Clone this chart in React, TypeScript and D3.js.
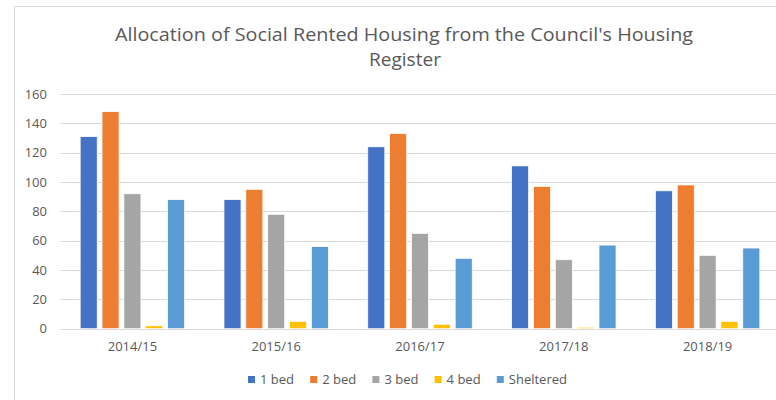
import React from 'react'
import * as d3 from 'd3'

const years = ['2014/15', '2015/16', '2016/17', '2017/18', '2018/19']
const seriesNames = ['1 bed', '2 bed', '3 bed', '4 bed', 'Sheltered']
const oneBed = [131, 88, 124, 111, 94]
const twoBed = [148, 95, 133, 97, 98]
const threeBed = [92, 78, 65, 47, 50]
const fourBed = [2, 5, 3, 1, 5]
const sheltered = [88, 56, 48, 57, 55]
const yTicks = [0, 20, 40, 60, 80, 100, 120, 140, 160]
const colors = ['#4472C4', '#ED7D31', '#A5A5A5', '#FFC000', '#5B9BD5']

const values = [oneBed, twoBed, threeBed, fourBed, sheltered]
const font = "'Open Sans', sans-serif"

const App = () => {
    const width = 776
    const height = 400
    const x0 = d3.scaleBand().domain(years).range([60.5, 779.5])
    const x1 = d3
        .scaleBand()
        .domain(seriesNames)
        .range([0, x0.bandwidth()])
        .paddingInner(0.22)
        .paddingOuter(0.9)
    const y = d3.scaleLinear().domain([0, 160]).range([328.7, 94])
    const legendX = d3.scaleLinear().domain([0, 1]).range([248, 310.2])

    return (
        <div style={{ position: 'absolute', left: 0, top: 0 }}>
            <svg width={width} height={height} style={{ display: 'block', background: '#fff' }}>
                <rect x={14.5} y={6.5} width={800} height={420} fill="#fff" stroke="#d9d9d9" />
                <g fontFamily={font} fill="#595959">
                    <text x={404} y={41} fontSize={19} textAnchor="middle" textLength={578} lengthAdjust="spacingAndGlyphs">
                        Allocation of Social Rented Housing from the Council's Housing
                    </text>
                    <text x={405} y={66} fontSize={19} textAnchor="middle" textLength={72} lengthAdjust="spacingAndGlyphs">
                        Register
                    </text>
                </g>
                {yTicks.map(t => (
                    <g key={t}>
                        <line x1={60.5} x2={780} y1={Math.round(y(t)) + 0.5} y2={Math.round(y(t)) + 0.5} stroke="#d9d9d9" strokeWidth={1} />
                        <text x={47} y={y(t)} dy="0.35em" textAnchor="end" fontFamily={font} fontSize={13} fill="#595959">
                            {t}
                        </text>
                    </g>
                ))}
                {years.map((yr, i) => (
                    <g key={yr} transform={`translate(${x0(yr)},0)`}>
                        {seriesNames.map((s, j) => (
                            <rect
                                key={s}
                                x={x1(s)}
                                y={y(values[j][i])}
                                width={x1.bandwidth()}
                                height={y(0) - y(values[j][i])}
                                fill={colors[j]}
                                stroke="#fff"
                                strokeWidth={0.75}
                            />
                        ))}
                        <text x={x0.bandwidth() / 2} y={351} textAnchor="middle" fontFamily={font} fontSize={13} fill="#595959">
                            {yr}
                        </text>
                    </g>
                ))}
                {seriesNames.map((s, j) => (
                    <g key={s} transform={`translate(${legendX(j)},0)`}>
                        <rect x={0} y={376} width={7} height={7} fill={colors[j]} />
                        <text x={12} y={384} fontFamily={font} fontSize={13} fill="#595959">
                            {s}
                        </text>
                    </g>
                ))}
            </svg>
        </div>
    )
}

export default App
